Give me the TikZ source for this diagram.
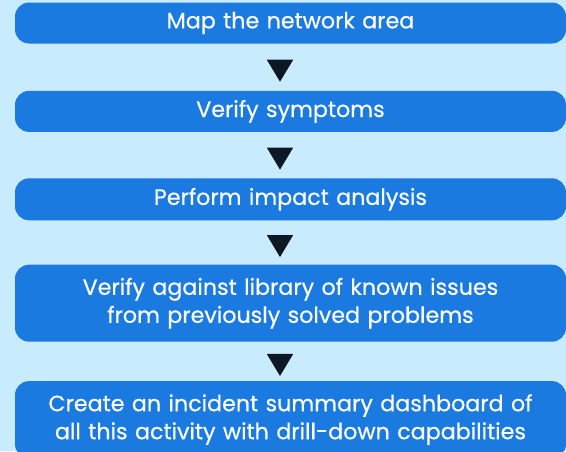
\documentclass[tikz,border=0pt]{standalone}
\usepackage{fontspec}
\setmainfont{Poppins}[FakeBold=0.5]
\usetikzlibrary{shapes.geometric, positioning, calc}
\definecolor{cBack}{RGB}{200,235,253}
\definecolor{cBox}{RGB}{26,122,224}
\definecolor{cTip}{RGB}{14,24,36}
\tikzset{
	stepbox/.style ={rectangle, rounded corners=14pt, minimum width=551pt, text width=540pt, align=center, fill=cBox, text=white, inner sep=0pt},
	downtip/.style ={isosceles triangle, isosceles triangle apex angle=62, shape border rotate=-90, fill=cTip, minimum height=22pt, inner sep=0pt},
}
\begin{document}
\begin{tikzpicture}[x=1pt, y=1pt, font=\fontsize{22.2}{28}\selectfont]
	\fill[cBack] (0,0) rectangle (566,-451);
	\useasboundingbox (0,0) rectangle (566,-451);
	\node[stepbox, minimum height=41pt] (step1) at (290.5,-23) {Map the network area};
	\node[stepbox, minimum height=41pt, below=47pt of step1] (step2) {Verify symptoms};
	\node[stepbox, minimum height=42pt, below=46pt of step2] (step3) {Perform impact analysis};
	\node[stepbox, minimum height=77pt, below=44pt of step3] (step4) {Verify against library of known issues\\from previously solved problems};
	\node[stepbox, minimum height=77pt, below=39pt of step4] (step5) {Create an incident summary dashboard of\\all this activity with drill-down capabilities};
	% the black tips between the steps
	\foreach \a/\b in {1/2, 2/3, 3/4, 4/5}
		\node[downtip] (tip\a) at ($(step\a.south)!0.5!(step\b.north) + (-10.5,0)$) {};
\end{tikzpicture}
\end{document}
